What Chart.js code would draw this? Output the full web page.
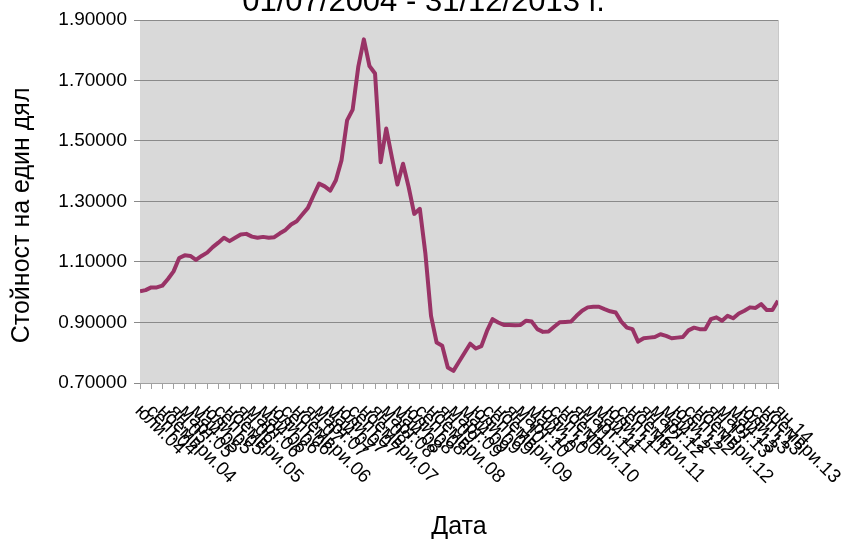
<!DOCTYPE html>
<html>
<head>
<meta charset="utf-8">
<script src="https://cdn.jsdelivr.net/npm/chart.js@4/dist/chart.umd.min.js"></script>
<style>
    html, body { margin: 0; padding: 0; background: #ffffff; }
    #wrap { position: relative; width: 847px; height: 540px; overflow: hidden; }
    #box { position: absolute; left: 0; top: -13px; width: 847px; height: 554px; }
</style>
</head>
<body>
<div id="wrap"><div id="box"><canvas id="chart"></canvas></div></div>
<script>
// monthly unit value, 01.07.2004 ... 31.12.2013
const unitValues = [
    1.003, 1.007, 1.016, 1.016, 1.022, 1.044, 1.069, 1.113, 1.122, 1.120,
    1.107, 1.120, 1.131, 1.149, 1.164, 1.180, 1.169, 1.180, 1.191, 1.193,
    1.184, 1.180, 1.183, 1.180, 1.182, 1.195, 1.206, 1.224, 1.235, 1.257,
    1.279, 1.320, 1.359, 1.350, 1.336, 1.370, 1.436, 1.568, 1.604, 1.745,
    1.836, 1.748, 1.723, 1.430, 1.541, 1.447, 1.356, 1.425, 1.348, 1.259,
    1.276, 1.127, 0.922, 0.834, 0.823, 0.751, 0.740, 0.770, 0.800, 0.830,
    0.814, 0.822, 0.872, 0.911, 0.900, 0.892, 0.892, 0.891, 0.892, 0.906,
    0.903, 0.878, 0.869, 0.870, 0.886, 0.901, 0.902, 0.903, 0.922, 0.939,
    0.950, 0.952, 0.952, 0.944, 0.937, 0.933, 0.903, 0.883, 0.878, 0.837,
    0.848, 0.850, 0.852, 0.861, 0.856, 0.848, 0.850, 0.852, 0.874, 0.883,
    0.878, 0.878, 0.911, 0.917, 0.906, 0.922, 0.914, 0.930, 0.939, 0.950,
    0.948, 0.961, 0.941, 0.941, 0.972
];

// one label every second month
const dateLabels = [
    "юли.04", "септ.04", "ноември.04",
    "ян.05", "март.05", "май.05", "юли.05", "септ.05", "ноември.05",
    "ян.06", "март.06", "май.06", "юли.06", "септ.06", "ноември.06",
    "ян.07", "март.07", "май.07", "юли.07", "септ.07", "ноември.07",
    "ян.08", "март.08", "май.08", "юли.08", "септ.08", "ноември.08",
    "ян.09", "март.09", "май.09", "юли.09", "септ.09", "ноември.09",
    "ян.10", "март.10", "май.10", "юли.10", "септ.10", "ноември.10",
    "ян.11", "март.11", "май.11", "юли.11", "септ.11", "ноември.11",
    "ян.12", "март.12", "май.12", "юли.12", "септ.12", "ноември.12",
    "ян.13", "март.13", "май.13", "юли.13", "септ.13", "ноември.13",
    "ян.14"
];

const yTicks = [0.7, 0.9, 1.1, 1.3, 1.5, 1.7, 1.9];

const FONT = "'Liberation Sans', Arial, sans-serif";

const points = unitValues.map((v, i) => ({ x: i, y: v }));

// grey plot area
const plotBackground = {
    id: "plotBackground",
    beforeDraw(chart){
        const a = chart.chartArea;
        const ctx = chart.ctx;
        ctx.save();
        ctx.fillStyle = "#d9d9d9";
        ctx.fillRect(a.left, a.top, a.right - a.left, a.bottom - a.top);
        ctx.strokeStyle = "#c8c8c8";
        ctx.lineWidth = 1;
        ctx.beginPath();
        ctx.moveTo(a.right + 0.5, a.top);
        ctx.lineTo(a.right + 0.5, a.bottom);
        ctx.stroke();
        ctx.restore();
    }
};

// date labels slanting down to the right, like the original
const slantedLabels = {
    id: "slantedLabels",
    afterDraw(chart){
        const scale = chart.scales.x;
        const ctx = chart.ctx;
        ctx.save();
        ctx.font = "19px " + FONT;
        ctx.fillStyle = "#000000";
        ctx.textAlign = "left";
        ctx.textBaseline = "middle";
        scale.ticks.forEach((t) => {
            const label = dateLabels[Math.round(t.value / 2)];
            if (label === undefined) return;
            const px = scale.getPixelForValue(t.value);
            ctx.save();
            ctx.translate(px - 2, scale.top + 25);
            ctx.rotate(Math.PI / 4);
            ctx.fillText(label, 0, 0);
            ctx.restore();
        });
        ctx.restore();
    }
};

new Chart(document.getElementById("chart"), {
    type: "line",
    data: {
        datasets: [{
            data: points,
            borderColor: "#993366",
            borderWidth: 4,
            borderJoinStyle: "round",
            pointRadius: 0,
            tension: 0
        }]
    },
    options: {
        responsive: true,
        maintainAspectRatio: false,
        animation: false,
        layout: { padding: 0 },
        plugins: {
            legend: { display: false },
            tooltip: { enabled: false },
            title: {
                display: true,
                text: "01/07/2004 - 31/12/2013 г.",
                color: "#000000",
                font: { family: FONT, size: 31, weight: "normal", lineHeight: 1 },
                padding: { top: 0, bottom: 2 }
            }
        },
        scales: {
            x: {
                type: "linear",
                min: 0,
                max: unitValues.length - 1,
                afterFit(scale){ scale.height = 158; },
                ticks: { display: false, stepSize: 2, autoSkip: false },
                grid: { drawOnChartArea: false, drawTicks: true, tickLength: 6, color: "#a0a0a0" },
                border: { display: true, color: "#a0a0a0" },
                title: {
                    display: true,
                    text: "Дата",
                    color: "#000000",
                    font: { family: FONT, size: 25, lineHeight: 1 },
                    padding: { top: 0, bottom: 1 }
                }
            },
            y: {
                min: 0.7,
                max: 1.9,
                afterFit(scale){ scale.width = 140; },
                afterBuildTicks(scale){ scale.ticks = yTicks.map((v) => ({ value: v })); },
                ticks: {
                    color: "#000000",
                    padding: 7,
                    font: { family: FONT, size: 19 },
                    callback: (v) => Number(v).toFixed(5)
                },
                grid: { color: "#8a8a8a", tickLength: 6 },
                border: { display: false },
                title: {
                    display: true,
                    text: "Стойност на един дял\u00a0\u00a0\u00a0\u00a0",
                    color: "#000000",
                    font: { family: FONT, size: 25, lineHeight: 1 },
                    padding: { top: 10, bottom: 0 }
                }
            },
            // empty right-hand axis, only keeps the white margin on the right
            yRight: {
                position: "right",
                afterFit(scale){ scale.width = 69; },
                ticks: { display: false },
                grid: { display: false },
                border: { display: false }
            }
        }
    },
    plugins: [plotBackground, slantedLabels]
});
</script>
</body>
</html>
